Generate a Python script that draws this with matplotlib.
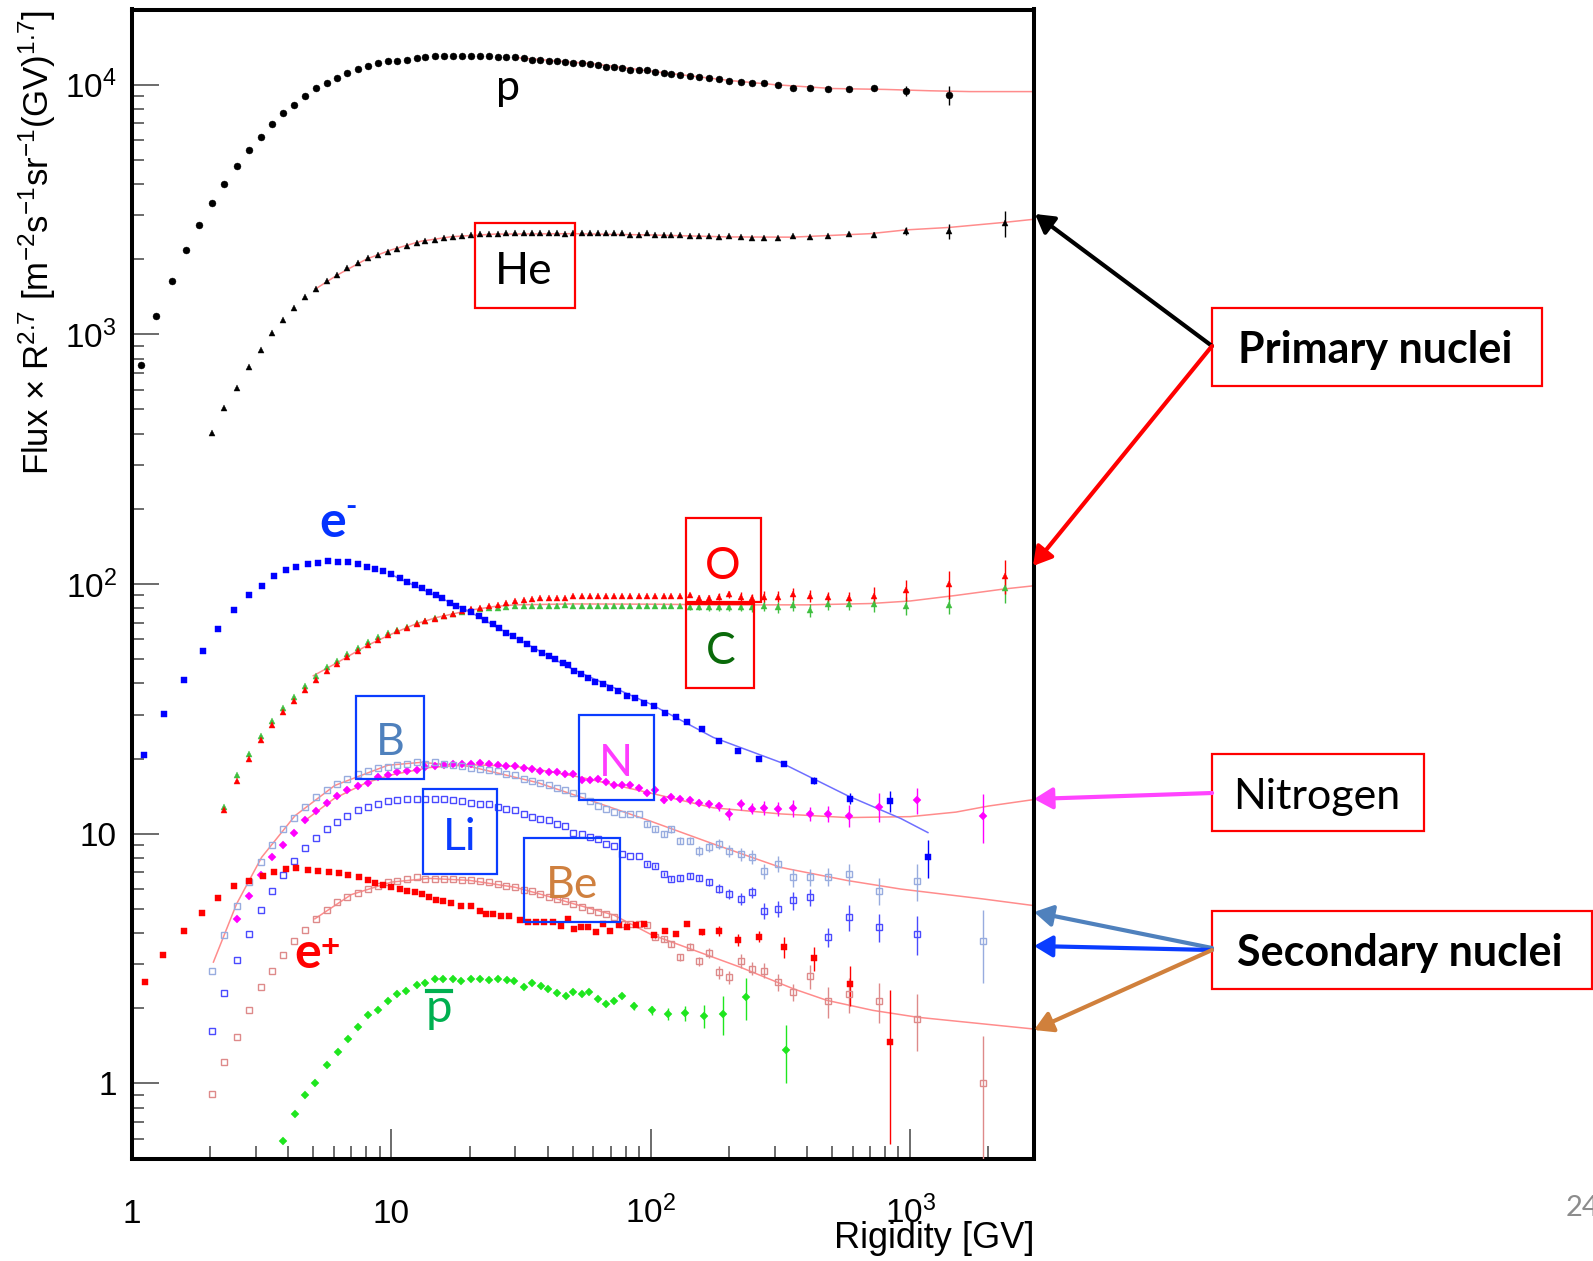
import matplotlib
matplotlib.use("Agg")
import matplotlib.pyplot as plt
from matplotlib.patches import Rectangle, FancyArrowPatch
from matplotlib.lines import Line2D
from matplotlib.ticker import LogLocator, NullFormatter

# ---------------------------------------------------------------- data
# rigidity bin centres (GV)
rigidity = [1.08, 1.24, 1.42, 1.61, 1.81, 2.03, 2.27, 2.53, 2.82, 3.13,
            3.46, 3.83, 4.22, 4.65, 5.12, 5.63, 6.18, 6.77, 7.42, 8.11,
            8.86, 9.67, 10.5, 11.5, 12.5, 13.5, 14.7, 15.9, 17.3, 18.7,
            20.3, 21.9, 23.7, 25.7, 27.7, 29.9, 32.3, 34.8, 37.5, 40.4,
            43.5, 46.8, 50.3, 54.1, 58.2, 62.5, 67.2, 72.3, 77.7, 83.4,
            89.7, 96.4, 104, 112, 120, 130, 141, 153, 167, 183,
            201, 222, 246, 274, 310, 354, 409, 481, 581, 727,
            964, 1413]

# proton
p_rig = rigidity
p_flux = [757, 1180, 1630, 2170, 2740, 3350, 4010, 4710, 5460, 6190,
          6970, 7670, 8300, 9020, 9660, 10190, 10670, 11170, 11560, 11910,
          12160, 12390, 12440, 12560, 12740, 12860, 13020, 13060, 13060, 13020,
          13060, 13060, 13060, 12940, 12860, 12860, 12740, 12610, 12560, 12470,
          12400, 12320, 12240, 12170, 12100, 11950, 11800, 11730, 11670, 11480,
          11410, 11410, 11270, 11170, 11070, 10960, 10860, 10760, 10670, 10500,
          10380, 10280, 10190, 10120, 9970, 9720, 9700, 9590, 9590, 9660,
          9430, 9100]
p_err = [150, 250, 440, 820]

# helium
he_rig = rigidity[5:] + [2324]
he_flux = [401, 507, 610, 740, 869, 1012, 1145, 1274, 1406, 1523, 1630, 1733, 1841, 1928, 2019, 2083,
           2140, 2200, 2265, 2330, 2370, 2395, 2425, 2450, 2480,
           2495, 2518, 2518, 2518, 2535, 2535, 2535, 2535, 2535, 2535,
           2535, 2530, 2535, 2535, 2535, 2535, 2535, 2535, 2535, 2505,
           2505, 2552, 2505, 2505, 2505, 2489, 2466, 2466, 2466, 2443,
           2466, 2443, 2429, 2429, 2429, 2466, 2460, 2466, 2529, 2505,
           2599, 2583, 2788]
he_err = [40, 60, 95, 180, 325]

# carbon and oxygen
co_rig = rigidity[6:] + [2324]
o_flux = [12.4, 16.3, 19.9, 23.7, 27.2, 30.6, 34.0, 37.6, 41.2, 44.9, 47.7, 51.0, 54.0, 57.0, 59.7,
          62.4, 64.9, 66.9, 69.4, 71.1, 72.6, 74.5, 76.0, 78.0,
          79.7, 80.4, 81.7, 82.4, 84.2, 85.5, 86.3, 86.9, 87.7, 88.1,
          88.1, 88.1, 89.5, 89.5, 89.5, 89.5, 89.5, 89.5, 89.5, 89.5,
          89.5, 89.5, 89.5, 89.5, 89.5, 89.5, 90.4, 88.1, 88.1, 89.0,
          91.0, 89.0, 88.1, 89.0, 89.0, 91.5, 89.9, 89.0, 88.1, 89.9,
          94.6, 99.7, 108.0]
o_err = [2, 2.5, 2.5, 3, 3, 3.5, 3.5, 4.5, 4.5, 5, 5, 4, 5, 7.6, 9.5, 12.7, 17]
c_flux = [12.8, 17.1, 20.8, 24.6, 28.2, 31.8, 35.3, 39.0, 42.7, 46.4, 49.3, 52.6, 55.6, 58.6, 61.2,
          63.7, 65.5, 67.5, 69.8, 71.4, 72.9, 74.5, 75.8, 77.4,
          78.5, 79.3, 80.0, 80.5, 81.0, 81.5, 81.8, 82.0, 82.0, 82.0,
          82.0, 82.4, 82.0, 82.0, 82.0, 82.0, 82.0, 82.0, 82.0, 82.0,
          82.0, 82.0, 81.7, 81.7, 81.7, 81.7, 81.0, 80.8, 80.8, 80.8,
          80.8, 80.8, 80.8, 81.7, 80.8, 82.4, 78.5, 83.0, 83.0, 83.0,
          81.7, 82.4, 96.1]
c_err = [2, 2, 2.5, 2.5, 3, 3, 3.5, 4, 4, 4.5, 4.5, 4, 4.5, 6, 6.8, 6.5, 11.8]

# nitrogen
n_rig = rigidity[7:69] + [755, 1060, 1900]
n_flux = [4.56, 5.65, 6.84, 8.04, 9.04, 10.1, 11.3, 12.3, 13.3, 14.1, 14.9, 15.5, 16.0, 16.8,
          17.2, 17.6, 17.9, 18.0, 18.5, 18.7, 18.8, 19.0, 19.0,
          19.0, 19.2, 19.0, 18.8, 18.7, 18.7, 18.3, 18.1, 17.8, 17.6,
          17.6, 17.3, 17.3, 16.4, 16.4, 16.6, 16.1, 15.7, 15.7, 15.6,
          15.3, 14.6, 14.9, 13.6, 14.0, 13.8, 13.6, 13.3, 13.2, 12.9,
          12.0, 13.1, 12.6, 12.7, 12.6, 12.7, 12.0, 12.0, 11.8,
          12.8, 13.6, 11.8]
n_err = [0.3, 0.3, 0.35, 0.35, 0.35, 0.4, 0.45, 0.5, 0.55, 0.65, 0.7, 0.65,
         0.8, 0.85, 1.0, 0.75, 0.85, 1.2, 1.7, 1.6, 2.6]

# secondaries: boron, lithium, beryllium
b_rig = rigidity[5:69] + [755, 1060, 1900]
b_flux = [2.83, 3.91, 5.15, 6.39, 7.73, 9.04, 10.4, 11.6, 12.8, 14.0, 15.0, 15.8, 16.6, 17.3, 17.9, 18.4,
          18.5, 18.9, 19.1, 19.3, 19.1, 19.3, 19.1, 18.9, 18.7,
          18.4, 18.1, 18.0, 17.8, 17.3, 17.1, 16.6, 16.3, 15.9, 15.6,
          15.2, 15.0, 14.6, 14.2, 13.5, 12.9, 12.6, 12.2, 12.0, 12.0,
          12.0, 10.9, 10.4, 9.97, 10.4, 9.38, 9.38, 8.55, 8.82, 9.09,
          8.55, 8.29, 8.09, 7.07, 7.56, 6.69, 6.69, 6.73, 6.90,
          5.92, 6.49, 3.73]
b_err = [0.25, 0.25, 0.3, 0.3, 0.3, 0.3, 0.4, 0.4, 0.4, 0.45, 0.5, 0.5, 0.5,
         0.55, 0.55, 0.5, 0.55, 0.65, 0.75, 1.1, 1.2]

li_rig = rigidity[5:69] + [755, 1060]
li_flux = [1.62, 2.31, 3.13, 3.97, 4.96, 5.88, 6.84, 7.75, 8.73, 9.61, 10.4, 11.1, 11.8, 12.4, 12.8, 13.1,
           13.5, 13.6, 13.8, 13.8, 13.8, 13.8, 13.8, 13.6, 13.5,
           13.3, 13.2, 13.1, 12.8, 12.6, 12.4, 12.0, 11.7, 11.5, 11.3,
           10.9, 10.7, 10.1, 9.97, 9.67, 9.52, 9.09, 8.95, 8.29, 8.17,
           8.17, 7.56, 7.44, 6.90, 6.59, 6.65, 6.79, 6.65, 6.39, 6.01,
           5.74, 5.48, 5.83, 4.92, 5.00, 5.40, 5.56, 3.85, 4.63,
           4.22, 3.97]
li_err = [0.15, 0.15, 0.15, 0.15, 0.2, 0.2, 0.2, 0.2, 0.25, 0.25, 0.3, 0.3,
          0.38, 0.38, 0.45, 0.45, 0.33, 0.55, 0.55, 0.7]

be_rig = rigidity[5:69] + [755, 1060, 1900]
be_flux = [0.904, 1.22, 1.54, 1.96, 2.44, 2.81, 3.28, 3.73, 4.13, 4.56, 4.95, 5.31, 5.60, 5.77, 6.01, 6.19,
           6.39, 6.49, 6.59, 6.69, 6.59, 6.59, 6.59, 6.59, 6.55,
           6.53, 6.49, 6.39, 6.29, 6.19, 6.10, 5.95, 5.88, 5.74, 5.60,
           5.48, 5.36, 5.23, 5.07, 4.95, 4.84, 4.77, 4.63, 4.35, 4.35,
           4.35, 4.29, 3.87, 3.79, 3.62, 3.20, 3.53, 3.08, 3.33, 2.79,
           2.66, 3.09, 2.88, 2.83, 2.54, 2.32, 2.69, 2.13, 2.28,
           2.13, 1.81, 1.00]
be_err = [0.08, 0.08, 0.1, 0.1, 0.1, 0.12, 0.12, 0.15, 0.17, 0.16, 0.2, 0.17,
          0.19, 0.19, 0.19, 0.3, 0.3, 0.37, 0.39, 0.46, 0.55]

# electrons
em_rig = [1.11, 1.33, 1.59, 1.87, 2.14, 2.48, 2.82, 3.18, 3.53, 3.91,
          4.30, 4.75, 5.21, 5.71, 6.22, 6.80, 7.43, 8.02, 8.62, 9.29,
          9.94, 10.8, 11.5, 12.3, 13.1, 13.9, 14.8, 15.7, 16.8, 17.8, 18.9, 20.3,
          21.7, 23.0, 24.6, 26.1, 27.7, 29.4, 31.2, 33.3, 35.6, 38.0, 40.4, 42.8, 45.7, 47.8,
          50.7, 53.8, 57.4, 61.1, 65.2, 69.8, 74.5, 80.6, 87.0, 94.2,
          103, 113, 125, 138, 158, 183, 217, 261, 326, 427, 588, 832, 1170]
em_flux = [20.6, 30.1, 41.3, 54.0, 66.3, 78.7, 90.4, 98.2, 107.7, 113.8,
           116.9, 119.9, 121.7, 123.6, 122.5, 122.5, 120.5, 116.9, 114.5, 113.0,
           110, 105.4, 102.1, 99.1, 96.1, 92.9, 90.1, 87.7, 84.2, 81.7, 79.2, 77.5,
           74.5, 71.8, 69.4, 66.9, 63.8, 61.9, 59.6, 57.4, 55.1, 53.1, 51.5, 50.0, 48.2, 47.3,
           44.9, 43.8, 42.2, 40.6, 39.7, 38.3, 37.3, 35.6, 34.8, 33.5,
           32.5, 30.5, 29.2, 28.1, 26.2, 23.5, 21.5, 20.0, 19.1, 16.3, 13.8, 13.5, 8.04]
em_err = [0.3, 0.4, 0.5, 0.7, 1.3, 1.4]

# positrons
ep_rig = [1.12, 1.32, 1.59, 1.86, 2.15, 2.48, 2.82, 3.21, 3.54, 3.91,
          4.28, 4.76, 5.23, 5.74, 6.27, 6.81, 7.49, 8.09, 8.63, 9.29,
          10.0, 10.8, 11.5, 12.3, 13.1, 13.9, 14.8, 15.8, 17.0, 18.5, 20.2,
          21.9, 23.2, 24.6, 26.5, 28.5, 31.2, 33.6, 36.1, 38.9, 41.9,
          45.1, 47.8, 50.7, 53.8, 57.4, 61.4, 65.2, 69.8, 75.5, 81.3, 87.5, 94.2,
          103, 113, 125, 138, 158, 183, 217, 261, 326, 427, 588, 832]
ep_flux = [2.54, 3.28, 4.09, 4.82, 5.51, 6.15, 6.49, 6.75, 7.05, 7.22,
           7.26, 7.18, 7.11, 7.05, 6.94, 6.86, 6.73, 6.55, 6.33, 6.23,
           6.14, 6.01, 5.92, 5.82, 5.74, 5.56, 5.43, 5.35, 5.26, 5.11, 5.11,
           4.92, 4.77, 4.77, 4.70, 4.70, 4.52, 4.42, 4.42, 4.42, 4.42,
           4.25, 4.56, 4.16, 4.22, 4.22, 4.03, 4.35, 4.09, 4.29, 4.22, 4.29, 4.33,
           3.91, 4.07, 3.97, 4.35, 4.03, 4.09, 3.76, 3.87, 3.51, 3.18, 2.50, 1.47]
ep_err = [0.1, 0.12, 0.19, 0.2, 0.2, 0.33, 0.35, 0.45, 0.9]

# antiprotons
pb_rig = [3.83, 4.25, 4.64, 5.07, 5.66, 6.20, 6.81, 7.45, 8.13, 8.84,
          9.66, 10.5, 11.4, 12.5, 13.5, 14.7, 15.8, 17.2, 18.6, 20.2,
          21.9, 23.7, 25.7, 27.8, 29.8, 32.3, 34.9, 37.8, 40.3, 43.5,
          47.1, 50.3, 54.1, 57.9, 62.7, 67.1, 72.3, 77.3, 85.8, 101,
          116, 136, 160, 190, 232, 331]
pb_flux = [0.59, 0.757, 0.90, 1.00, 1.18, 1.33, 1.51, 1.68, 1.87, 1.96,
           2.13, 2.28, 2.34, 2.47, 2.52, 2.62, 2.62, 2.62, 2.58, 2.62,
           2.62, 2.60, 2.62, 2.60, 2.57, 2.44, 2.52, 2.45, 2.39, 2.30,
           2.24, 2.32, 2.27, 2.32, 2.17, 2.07, 2.13, 2.24, 2.04, 1.96,
           1.90, 1.91, 1.86, 1.90, 2.21, 1.36]
pb_err = [0.07, 0.09, 0.11, 0.14, 0.2, 0.34, 0.42, 0.36]

# model curves
p_fit_rig = [31, 60, 100, 200, 300, 500, 800, 1200, 1700, 3000]
p_fit = [12800, 12120, 11330, 10400, 10000, 9650, 9570, 9450, 9380, 9380]
he_fit_rig = [5.1, 6.2, 8, 10, 13, 17, 25, 50, 100, 200, 350, 700, 964, 1413, 2324, 3000]
he_fit = [1520, 1730, 2000, 2180, 2360, 2460, 2520, 2530, 2500, 2455, 2450, 2530, 2620, 2680, 2810, 2890]
co_fit_rig = [5.0, 6.2, 8, 10, 12.5, 15, 20, 25, 30, 50, 100, 200, 400, 700, 1000, 1500, 2300, 3000]
co_fit = [42.9, 48.5, 56.5, 63, 69.4, 73.5, 78.5, 81.3, 82.5, 83.2, 83, 82.5, 82.5, 83.5, 85.5, 90, 95.5, 98.4]
n_fit_rig = [4.6, 6, 8, 10, 14, 20, 30, 40, 54, 98, 174, 316, 573, 1000, 1500, 2000, 3000]
n_fit = [11.2, 13.8, 16.0, 17.2, 18.4, 18.9, 18.6, 17.8, 16.8, 14.6, 12.7, 12.0, 11.6, 11.7, 12.2, 12.9, 13.7]
b_fit_rig = [2.06, 2.53, 3.16, 4.25, 6.05, 9.7, 13, 20, 36.7, 53.8, 98, 174, 316, 573, 920, 1900, 3000]
b_fit = [3.06, 5.23, 8.04, 11.8, 15.6, 18.8, 19.3, 18.6, 16.0, 14.0, 11.3, 9.1, 7.33, 6.49, 6.0, 5.48, 5.15]
be_fit_rig = [5.07, 7, 10, 14, 20, 30, 40, 50, 72, 100, 221, 355, 477, 718, 1065, 3000]
be_fit = [4.56, 5.7, 6.4, 6.62, 6.5, 6.1, 5.62, 5.25, 4.72, 3.95, 2.92, 2.39, 2.15, 1.96, 1.84, 1.65]
em_fit_rig = [10, 20, 30, 50, 100, 174, 316, 573, 920, 1170]
em_fit = [109, 77.5, 61, 45.5, 33, 24.3, 19.3, 14.2, 11.5, 10.1]

x_ticks = [1, 10, 100, 1000]
x_tick_labels = ['1', '10', r'$10^{2}$', r'$10^{3}$']
y_ticks = [1, 10, 100, 1000, 10000]
y_tick_labels = ['1', '10', r'$10^{2}$', r'$10^{3}$', r'$10^{4}$']

# ---------------------------------------------------------------- style
plt.rcParams['font.family'] = ['Liberation Sans', 'DejaVu Sans']
plt.rcParams['mathtext.fontset'] = 'custom'
plt.rcParams['mathtext.rm'] = 'Liberation Sans'
plt.rcParams['mathtext.it'] = 'Liberation Sans:italic'
plt.rcParams['mathtext.bf'] = 'Liberation Sans:bold'

W, H = 1593, 1261
fig = plt.figure(figsize=(W / 100, H / 100), dpi=100, facecolor='white')
ax = fig.add_axes([132 / W, 1 - 1158.5 / H, (1034 - 132) / W, (1158.5 - 9.5) / H])
ax.set_xscale('log')
ax.set_yscale('log')
ax.set_xlim(1, 3000)
ax.set_ylim(0.5, 2e4)

FIT = '#ff8c8c'


def pad(err, n):
    return [0.0] * (n - len(err)) + list(err)


def series(rig, flux, marker, color, ms, err=(), hollow=False):
    ax.errorbar(rig, flux, yerr=pad(err, len(rig)), fmt=marker, color=color,
                ms=ms, mfc='none' if hollow else color, mec=color,
                mew=1.0 if hollow else 0.3, elinewidth=1.0, capsize=0, zorder=3)


# model curves
for r, f in [(p_fit_rig, p_fit), (he_fit_rig, he_fit), (co_fit_rig, co_fit),
             (n_fit_rig, n_fit), (b_fit_rig, b_fit), (be_fit_rig, be_fit)]:
    ax.plot(r, f, color=FIT, lw=1.1, zorder=2)
ax.plot(em_fit_rig, em_fit, color='#6f6fff', lw=1.1, zorder=2)

# measured spectra
series(p_rig, p_flux, 'o', 'black', 5.0, p_err)
series(he_rig, he_flux, '^', 'black', 4.8, he_err)
series(co_rig, c_flux, '^', '#3fbf3f', 4.6, c_err)
series(co_rig, o_flux, '^', '#ff0000', 4.6, o_err)
series(em_rig, em_flux, 's', '#0000ff', 4.5, em_err)
series(n_rig, n_flux, 'D', '#ff00ff', 4.1, n_err)
series(b_rig, b_flux, 's', '#98acdf', 4.8, b_err, hollow=True)
series(li_rig, li_flux, 's', '#4a4aff', 4.8, li_err, hollow=True)
series(be_rig, be_flux, 's', '#de8a8a', 4.8, be_err, hollow=True)
series(ep_rig, ep_flux, 's', '#ff0000', 4.5, ep_err)
series(pb_rig, pb_flux, 'D', '#1ee61e', 3.8, pb_err)

# axes frame and ticks
for s in ax.spines.values():
    s.set_linewidth(2.9)
    s.set_color('black')
ax.set_xticks(x_ticks, labels=x_tick_labels)
ax.set_yticks(y_ticks, labels=y_tick_labels)
ax.xaxis.set_minor_locator(LogLocator(base=10, subs=range(2, 10), numticks=30))
ax.yaxis.set_minor_locator(LogLocator(base=10, subs=range(2, 10), numticks=30))
ax.xaxis.set_minor_formatter(NullFormatter())
ax.yaxis.set_minor_formatter(NullFormatter())
ax.tick_params(which='both', direction='in', top=False, right=False,
               color='#444444', width=1.1, labelsize=24)
ax.xaxis.set_tick_params(which='major', length=21.5, pad=46.5)
ax.xaxis.set_tick_params(which='minor', length=9.3)
ax.yaxis.set_tick_params(which='major', length=19.4, pad=11)
ax.yaxis.set_tick_params(which='minor', length=8.6)
for lbl in ax.get_xticklabels():
    lbl.set_verticalalignment('baseline')


def px(x, y):
    return x / W, 1 - y / H


fig.text(*px(37, 10), r'Flux $\times$ R$^{2.7}$ [m$^{-2}$s$^{-1}$sr$^{-1}$(GV)$^{1.7}$]',
         rotation=90, ha='center', va='top', fontsize=25)
fig.text(*px(1034, 1238), 'Rigidity [GV]', ha='right', va='center', fontsize=26)

# ---------------------------------------------------------------- annotations
LATO = ['Lato', 'DejaVu Sans']


def label(x, y, s, color, size, weight='normal', ha='center', va='baseline'):
    fig.text(*px(x, y), s, color=color, fontsize=size, fontweight=weight,
             ha=ha, va=va, family=LATO)


def box(x0, y0, x1, y1, color):
    fig.add_artist(Rectangle(px(x0, y1), (x1 - x0) / W, (y1 - y0) / H,
                             transform=fig.transFigure, fill=False,
                             ec=color, lw=1.6))


def arrow(x0, y0, x1, y1, color):
    fig.add_artist(FancyArrowPatch(px(x0, y0), px(x1, y1), transform=fig.transFigure,
                                   arrowstyle='-|>,head_length=0.55,head_width=0.32',
                                   mutation_scale=20, color=color, lw=3,
                                   shrinkA=0, shrinkB=0))


RED = '#ff0000'
BLUE = '#0a3cff'

label(508, 100, 'p', 'black', 31)
box(475, 223, 575, 308, RED)
label(524, 284, 'He', 'black', 32)
box(686, 518, 761, 602, RED)
label(723, 579, 'O', RED, 32)
box(686, 604, 754, 688, RED)
label(721, 664, 'C', '#0a6a0a', 32)
box(356, 696, 424, 779, BLUE)
label(390, 755, 'B', '#4f81bd', 32)
box(423, 789, 497, 874, BLUE)
label(460, 850, 'Li', BLUE, 32)
box(579, 715, 654, 800, BLUE)
label(616, 776, 'N', '#ff3cff', 32)
box(524, 838, 620, 922, BLUE)
label(572, 898, 'Be', '#cf803f', 32)

label(333, 537, 'e', '#0433ff', 36, 'bold')
label(351, 516, '-', '#0433ff', 22, 'bold')
label(308, 968, 'e', RED, 36, 'bold')
label(330, 948, '+', RED, 24, 'bold', va='center')
label(439, 1022, 'p', '#00b050', 34)
fig.add_artist(Line2D([427 / W, 451 / W], [1 - 991 / H, 1 - 991 / H],
                      transform=fig.transFigure, color='#00b050', lw=3))

box(1212, 308, 1542, 386, RED)
label(1375, 363, 'Primary nuclei', 'black', 31, 'bold')
box(1212, 754, 1424, 831, RED)
label(1317, 809, 'Nitrogen', 'black', 31)
box(1212, 911, 1592, 989, RED)
label(1400, 966, 'Secondary nuclei', 'black', 31, 'bold')

arrow(1212, 346, 1035, 214, 'black')
arrow(1212, 346, 1033, 566, RED)
arrow(1212, 793, 1034, 799, '#ff44ff')
arrow(1212, 948, 1034, 912, '#4f81bd')
arrow(1212, 950, 1034, 946, BLUE)
arrow(1212, 950, 1034, 1030, '#d0803c')

label(1566, 1216, '24', '#8c8c8c', 21, ha='left')

fig.savefig('out.png', dpi=100, facecolor='white')
